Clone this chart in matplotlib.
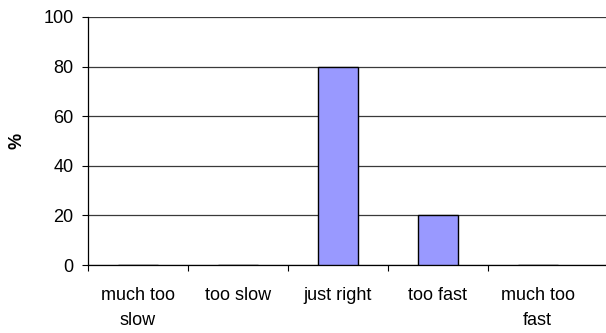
import numpy as np
import matplotlib.pyplot as plt

# Respuestas a la pregunta sobre el ritmo
categorias = ['much too\nslow', 'too slow', 'just right', 'too fast', 'much too\nfast']
porcentajes = [0, 0, 80, 20, 0]
ticks_y = [0, 20, 40, 60, 80, 100]

plt.rcParams['font.family'] = ['Liberation Sans', 'DejaVu Sans']

fig = plt.figure(figsize=(6.06, 3.33), dpi=100)
ax = fig.add_axes([0.1452, 0.2042, 0.8548, 0.7448])

x = np.arange(len(categorias))
ax.bar(x, porcentajes, width=0.4, color='#9999FF', edgecolor='black', linewidth=1.0, zorder=3)

ax.set_xlim(-0.5, 4.683)
ax.set_ylim(0, 100)
ax.set_yticks(ticks_y)
ax.tick_params(axis='y', direction='out', length=4.5, width=0.8, pad=6, labelsize=13)
ax.yaxis.grid(True, color='#3a3a3a', linewidth=0.9, zorder=0)

# marcas entre categorías, etiquetas centradas en cada barra
ax.set_xticks(np.arange(-0.5, 4, 1.0))
ax.set_xticklabels([])
ax.tick_params(axis='x', which='major', direction='out', length=4, width=0.8)
ax.set_xticks(x, minor=True)
ax.set_xticklabels(categorias, minor=True, fontsize=13, linespacing=1.6)
ax.tick_params(axis='x', which='minor', length=0, pad=16)

for lado in ['top', 'right']:
    ax.spines[lado].set_visible(False)
ax.spines['left'].set_linewidth(0.9)
ax.spines['bottom'].set_linewidth(0.9)

fig.text(17 / 606, 1 - 141 / 333, '%', rotation=90, fontsize=13, fontweight='bold',
         ha='center', va='center')

fig.savefig('out.png', dpi=100)
